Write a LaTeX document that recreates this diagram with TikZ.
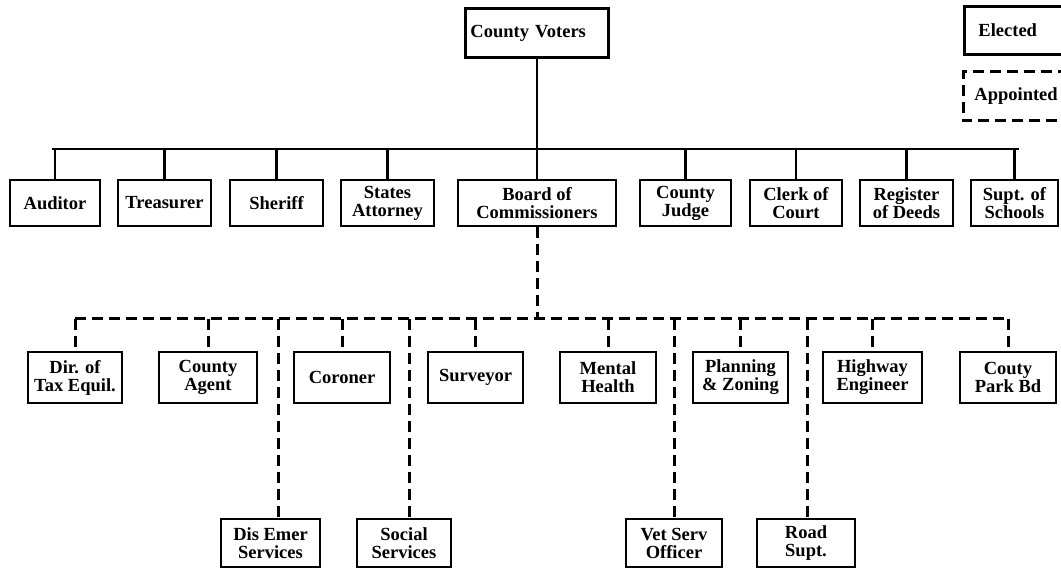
\documentclass[tikz,border=0pt]{standalone}
\usepackage{fontspec}
\setmainfont{Liberation Serif}
\begin{document}
\begin{tikzpicture}[x=1pt,y=-1pt,
  box/.style={draw, line width=2.9pt, inner sep=0pt, align=center,
    font=\bfseries\fontsize{18.5}{18}\selectfont},
  solidln/.style={line width=2.7pt},
  appt/.style={line width=3pt, dash pattern=on 11pt off 6pt},
]
\useasboundingbox (0,0) rectangle (1061,577);
% top
\node[box, anchor=north west, minimum width=143pt, minimum height=49pt,
  text width=133pt, inner xsep=5pt, align=left] (cv) at (464,7) {County Voters};
% legend
\node[box, anchor=north west, minimum height=48pt, text width=100pt,
  inner xsep=14pt, align=left] (elected) at (963,5) {Elected};
\node[box, draw=none, anchor=north west, minimum height=46pt, text width=100pt,
  inner xsep=10pt, align=left] (appointed) at (963,72) {Appointed};
\draw[appt] (appointed.north east) -- (appointed.north west) -- (appointed.south west) -- (appointed.south east);
% row 1
\node[box, minimum width=90pt, minimum height=46pt] (auditor) at (55,203) {Auditor};
\node[box, minimum width=93pt, minimum height=46pt] (treasurer) at (164.5,203) {Treasurer};
\node[box, minimum width=93pt, minimum height=46pt] (sheriff) at (276.5,203) {Sheriff};
\node[box, minimum width=93pt, minimum height=46pt] (states) at (387.5,203) {States\\Attorney};
\node[box, minimum width=158pt, minimum height=46pt] (board) at (537,203) {Board of\\Commissioners};
\node[box, minimum width=91pt, minimum height=46pt] (judge) at (685.5,203) {County\\Judge};
\node[box, minimum width=92pt, minimum height=46pt] (clerk) at (796,203) {Clerk of\\Court};
\node[box, minimum width=93pt, minimum height=46pt] (register) at (906.5,203) {Register\\of Deeds};
\node[box, minimum width=87pt, minimum height=46pt] (supt) at (1014.5,203) {Supt. of\\Schools};
% solid bus
\coordinate (busL) at (52,149);
\coordinate (busR) at (1019,149);
\draw[solidln] (busL) -- (busR);
\draw[solidln] (cv.south) -- (cv.south |- busL);
\foreach \n in {auditor,treasurer,sheriff,states,board,judge,clerk,register,supt}
  \draw[solidln] (\n.north |- busL) -- (\n.north);
% row 2
\node[box, minimum width=94pt, minimum height=51pt] (dir) at (75,377.5) {Dir. of\\Tax Equil.};
\node[box, minimum width=98pt, minimum height=51pt] (agent) at (208,377.5) {County\\Agent};
\node[box, minimum width=96pt, minimum height=51pt] (coroner) at (342,377.5) {Coroner};
\node[box, minimum width=95pt, minimum height=51pt] (surveyor) at (475.5,377.5) {Surveyor};
\node[box, minimum width=96pt, minimum height=51pt] (mental) at (608,377.5) {Mental\\Health};
\node[box, minimum width=95pt, minimum height=51pt] (planning) at (740.5,377.5) {Planning\\\&~Zoning};
\node[box, minimum width=99pt, minimum height=51pt] (highway) at (872.5,377.5) {Highway\\Engineer};
\node[box, minimum width=96pt, minimum height=51pt] (park) at (1008,377.5) {Couty\\Park Bd};
% bottom row
\node[box, minimum width=99pt, minimum height=48pt] (disemer) at (270.5,543) {Dis Emer\\Services};
\node[box, minimum width=94pt, minimum height=48pt] (social) at (404,543) {Social\\Services};
\node[box, minimum width=96pt, minimum height=48pt] (vet) at (674,543) {Vet Serv\\Officer};
\node[box, minimum width=98pt, minimum height=48pt] (road) at (806,543) {Road\\Supt.};
% dashed bus
\coordinate (abus) at (0,319);
\draw[appt] (dir.north |- abus) -- (park.north |- abus);
\draw[appt] (board.south) -- (board.south |- abus);
\foreach \n in {dir,agent,coroner,surveyor,mental,planning,highway,park}
  \draw[appt] (\n.north |- abus) -- (\n.north);
\coordinate (d1) at (278,319);
\coordinate (d2) at (409,319);
\coordinate (d3) at (674,319);
\coordinate (d4) at (807,319);
\draw[appt] (d1) -- (d1 |- disemer.north);
\draw[appt] (d2) -- (d2 |- social.north);
\draw[appt] (d3) -- (d3 |- vet.north);
\draw[appt] (d4) -- (d4 |- road.north);
\end{tikzpicture}
\end{document}
